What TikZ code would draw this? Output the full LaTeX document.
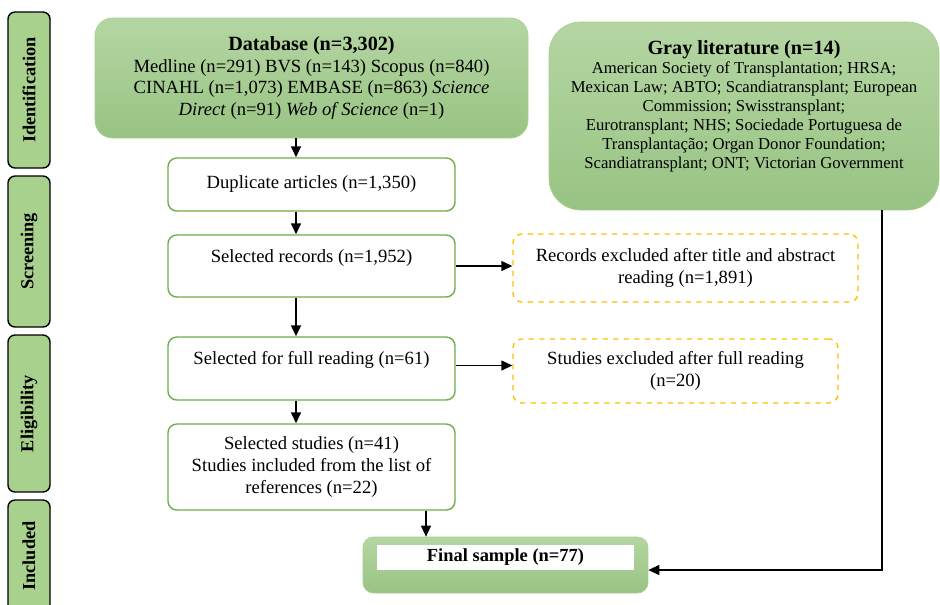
\documentclass[tikz,border=0pt]{standalone}
\usepackage{fontspec}
\setmainfont{Liberation Serif}
\usepackage{tikz}
\usetikzlibrary{arrows.meta, positioning, calc}
\definecolor{ink}{HTML}{000000}
\definecolor{leafline}{HTML}{70AD47}
\definecolor{paleline}{HTML}{A9CF8F}
\definecolor{stagefill}{HTML}{A9D18E}
\definecolor{greentop}{HTML}{B5D6A3}
\definecolor{greenbot}{HTML}{98C383}
\definecolor{amber}{HTML}{FFC000}

\begin{document}
\begin{tikzpicture}[
  stage/.style={draw=ink, fill=stagefill, rectangle, rounded corners=4pt, rotate=90, minimum height=0.84cm, font=\fontsize{10.4}{12}\selectfont\bfseries, line width=0.8pt},
  source/.style={draw=paleline, rectangle, top color=greentop, bottom color=greenbot, align=center, font=\fontsize{10.6}{12.4}\selectfont},
  stepbox/.style={draw=leafline, fill=white, rectangle, rounded corners=5pt, minimum width=5.74cm, align=center, font=\fontsize{10.6}{12.4}\selectfont, line width=0.8pt},
  dropbox/.style={draw=amber, dashed, fill=white, rectangle, rounded corners=5pt, align=center, font=\fontsize{10.6}{12.8}\selectfont, line width=0.8pt},
  >={Triangle[length=2.2mm, width=2mm]}
]
\useasboundingbox (0,0) rectangle (18.8,-12.08);

\node[stage, minimum width=3.12cm] (ident) at (0.58,-1.8) {Identification};
\node[stage, minimum width=3.02cm] (screen) at (0.58,-5.03) {Screening};
\node[stage, minimum width=3.14cm] (elig) at (0.58,-8.27) {Eligibility};
\node[stage, minimum width=2.24cm] (incl) at (0.58,-11.12) {Included};

\node[source, rounded corners=10pt, minimum width=8.66cm, minimum height=2.4cm] (database) at (6.23,-1.56) {{\fontsize{11.5}{13.4}\selectfont\bfseries Database (n=3,302)}\\Medline (n=291) BVS (n=143) Scopus (n=840)\\CINAHL (n=1,073) EMBASE (n=863) \textit{Science}\\\textit{Direct} (n=91) \textit{Web of Science} (n=1)};
\node[source, rounded corners=18pt, minimum width=7.8cm, minimum height=3.76cm, font=\fontsize{9.5}{10.8}\selectfont] (gray) at (14.88,-2.32) {{\fontsize{11.5}{13}\selectfont\bfseries Gray literature (n=14)}\\American Society of Transplantation; HRSA;\\Mexican Law; ABTO; Scandiatransplant; European\\Commission; Swisstransplant;\\Eurotransplant; NHS; Sociedade Portuguesa de\\Transplantação; Organ Donor Foundation;\\Scandiatransplant; ONT; Victorian Government\\[2pt]};

\node[stepbox, minimum height=1.06cm] (dup) at (6.23,-3.69) {Duplicate articles (n=1,350)};
\node[stepbox, minimum height=1.24cm, text depth=0.4cm] (selrec) at (6.23,-5.32) {Selected records (n=1,952)};
\node[stepbox, minimum height=1.26cm, text depth=0.44cm] (fullread) at (6.23,-7.37) {Selected for full reading (n=61)};
\node[stepbox, minimum height=1.72cm] (studies) at (6.23,-9.34) {Selected studies (n=41)\\Studies included from the list of\\references (n=22)};

\node[dropbox, minimum width=6.9cm, minimum height=1.36cm] (recexcl) at (13.71,-5.36) {Records excluded after title and abstract\\reading (n=1,891)};
\node[dropbox, minimum width=6.5cm, minimum height=1.28cm] (studexcl) at (13.51,-7.42) {Studies excluded after full reading\\(n=20)};

\node[source, rounded corners=6pt, minimum width=5.7cm, minimum height=1.12cm] (final) at (10.11,-11.3) {};
\node[fill=white, minimum width=5.14cm, minimum height=0.5cm, inner sep=0pt, font=\fontsize{10.5}{12.6}\selectfont\bfseries] (finaltext) at (10.11,-11.15) {Final sample (n=77)};

\draw[->, line width=0.8pt] ([xshift=-0.31cm]database.south) -- ([xshift=-0.31cm]dup.north);
\draw[->, line width=0.8pt] ([xshift=-0.31cm]dup.south) -- ([xshift=-0.31cm]selrec.north);
\draw[->, line width=0.8pt] ([xshift=-0.31cm]selrec.south) -- ([xshift=-0.31cm]fullread.north);
\draw[->, line width=0.8pt] ([xshift=-0.31cm]fullread.south) -- ([xshift=-0.31cm]studies.north);
\draw[->, line width=0.8pt] ([xshift=2.29cm]studies.south) -- ([xshift=2.29cm]studies.south |- final.north);
\draw[->, line width=0.8pt] (selrec.east) -- (selrec.east -| recexcl.west);
\draw[->, line width=0.8pt] ([yshift=0.06cm]fullread.east) -- ([yshift=0.06cm]fullread.east -| studexcl.west);
\draw[->, line width=0.8pt] ([xshift=2.76cm]gray.south) |- ([yshift=-0.1cm]final.east);
\end{tikzpicture}
\end{document}
